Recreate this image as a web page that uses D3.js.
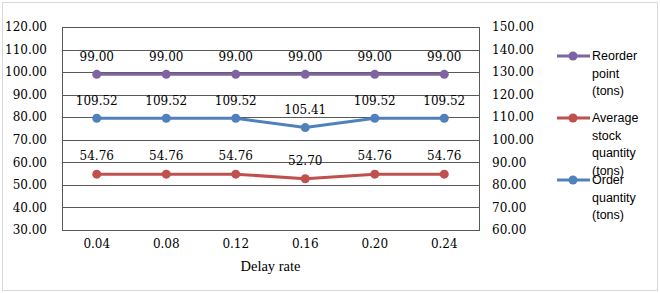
<!DOCTYPE html>
<html lang="en">
<head>
<meta charset="UTF-8"/>
<title>Delay rate chart</title>
<script src="https://d3js.org/d3.v7.min.js"></script>
<style>
	body { margin: 0; background: #fff; }
	text { fill: #000; }
	.num { font-family: "DejaVu Serif", serif; font-size: 12px; }
	.leg { font-family: "Liberation Sans", Arial, sans-serif; font-size: 12.5px; }
</style>
</head>
<body>
<script>
	var w = 660;
	var h = 293;

	var delayRates = ["0.04", "0.08", "0.12", "0.16", "0.20", "0.24"];
	var reorderPoint = [99.00, 99.00, 99.00, 99.00, 99.00, 99.00];
	var avgStock = [54.76, 54.76, 54.76, 52.70, 54.76, 54.76];
	var orderQty = [109.52, 109.52, 109.52, 105.41, 109.52, 109.52];
	var leftTicks = [30, 40, 50, 60, 70, 80, 90, 100, 110, 120];
	var rightTicks = [60, 70, 80, 90, 100, 110, 120, 130, 140, 150];
	var legendNames = [["Reorder", "point", "(tons)"], ["Average", "stock", "quantity", "(tons)"], ["Order", "quantity", "(tons)"]];

	var plot = { left: 62, right: 479, top: 27, bottom: 230 };

	var svg = d3.select("body").append("svg")
		.attr("width", w)
		.attr("height", h);

	// outer frame
	svg.append("rect")
		.attr("x", 2.5).attr("y", 2.5)
		.attr("width", 655).attr("height", 288)
		.attr("fill", "#fff")
		.attr("stroke", "#d9d9d9");

	var xScale = d3.scaleBand()
		.domain(delayRates)
		.range([plot.left, plot.right]);

	var yLeft = d3.scaleLinear().domain([30, 120]).range([plot.bottom, plot.top]);
	var yRight = d3.scaleLinear().domain([60, 150]).range([plot.bottom, plot.top]);

	// gridlines
	svg.append("g").selectAll("line")
		.data(leftTicks)
		.enter().append("line")
		.attr("x1", plot.left).attr("x2", plot.right)
		.attr("y1", function(d){ return Math.round(yLeft(d)) + 0.5; })
		.attr("y2", function(d){ return Math.round(yLeft(d)) + 0.5; })
		.attr("stroke", "#595959");

	svg.append("rect")
		.attr("x", plot.left + 0.5).attr("y", Math.round(plot.top) + 0.5)
		.attr("width", plot.right - plot.left)
		.attr("height", plot.bottom - plot.top)
		.attr("fill", "none")
		.attr("stroke", "#595959");

	// axes labels
	svg.append("g").selectAll("text")
		.data(leftTicks)
		.enter().append("text")
		.attr("class", "num")
		.attr("x", 47)
		.attr("y", function(d){ return yLeft(d); })
		.attr("dy", "0.35em")
		.attr("text-anchor", "end")
		.text(function(d){ return d.toFixed(2); });

	svg.append("g").selectAll("text")
		.data(rightTicks)
		.enter().append("text")
		.attr("class", "num")
		.attr("x", 492)
		.attr("y", function(d){ return yRight(d); })
		.attr("dy", "0.35em")
		.text(function(d){ return d.toFixed(2); });

	svg.append("g").selectAll("text")
		.data(delayRates)
		.enter().append("text")
		.attr("class", "num")
		.attr("x", function(d){ return xScale(d) + xScale.bandwidth() / 2; })
		.attr("y", 244)
		.attr("dy", "0.35em")
		.attr("text-anchor", "middle")
		.text(function(d){ return d; });

	svg.append("text")
		.attr("x", (plot.left + plot.right) / 2)
		.attr("y", 266)
		.attr("dy", "0.35em")
		.attr("text-anchor", "middle")
		.style("font-family", "Liberation Serif, serif")
		.style("font-size", "14.5px")
		.text("Delay rate");

	var series = [
		{ values: reorderPoint, scale: yLeft, color: "#8064A2" },
		{ values: avgStock, scale: yLeft, color: "#C0504D" },
		{ values: orderQty, scale: yRight, color: "#4F81BD" }
	];

	var cx = function(i){ return xScale(delayRates[i]) + xScale.bandwidth() / 2; };

	series.forEach(function(s){
		var line = d3.line()
			.x(function(d, i){ return cx(i); })
			.y(function(d){ return s.scale(d); });

		svg.append("path")
			.datum(s.values)
			.attr("d", line)
			.attr("fill", "none")
			.attr("stroke", s.color)
			.attr("stroke-width", 3)
			.attr("stroke-linejoin", "round");

		svg.append("g").selectAll("circle")
			.data(s.values)
			.enter().append("circle")
			.attr("cx", function(d, i){ return cx(i); })
			.attr("cy", function(d){ return s.scale(d); })
			.attr("r", 4.5)
			.attr("fill", s.color);

		svg.append("g").selectAll("text")
			.data(s.values)
			.enter().append("text")
			.attr("class", "num")
			.attr("x", function(d, i){ return cx(i); })
			.attr("y", function(d){ return s.scale(d) - 18; })
			.attr("dy", "0.35em")
			.attr("text-anchor", "middle")
			.text(function(d){ return d.toFixed(2); });
	});

	// legend
	var legendY = [56, 118, 180];
	legendNames.forEach(function(lines, k){
		var g = svg.append("g");
		g.append("line")
			.attr("x1", 557).attr("x2", 590)
			.attr("y1", legendY[k]).attr("y2", legendY[k])
			.attr("stroke", series[k].color)
			.attr("stroke-width", 3);
		g.append("circle")
			.attr("cx", 573).attr("cy", legendY[k])
			.attr("r", 4.5)
			.attr("fill", series[k].color);
		g.append("text")
			.attr("class", "leg")
			.selectAll("tspan")
			.data(lines)
			.enter().append("tspan")
			.attr("x", 592)
			.attr("y", function(d, i){ return legendY[k] + i * 17.5; })
			.attr("dy", "0.35em")
			.text(function(d){ return d; });
	});
</script>
</body>
</html>
